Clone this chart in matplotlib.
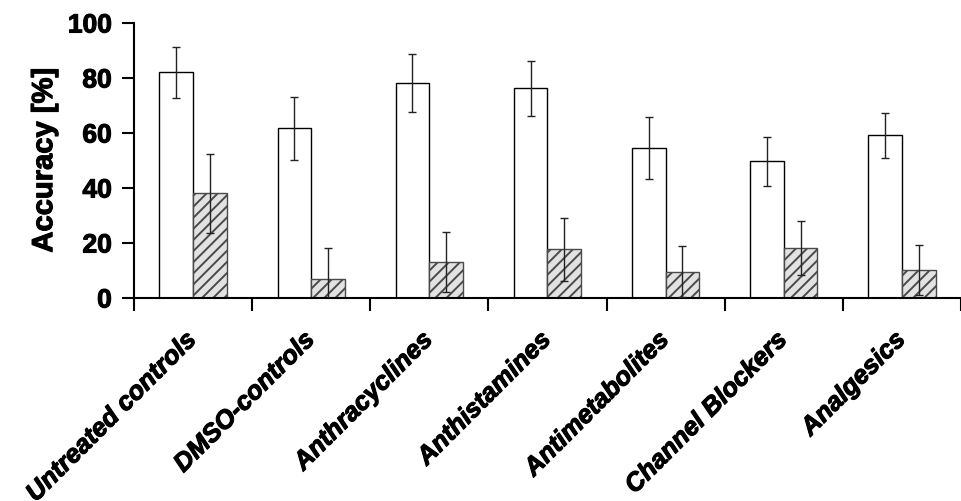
import matplotlib.pyplot as plt
import matplotlib.patheffects as pe
import numpy as np

plt.rcParams['font.family'] = 'Liberation Sans'
plt.rcParams['hatch.color'] = '#bcbcbc'
plt.rcParams['hatch.linewidth'] = 1.4

categories = ["Untreated controls", "DMSO-controls", "Anthracyclines", "Anthistamines",
              "Antimetabolites", "Channel Blockers", "Analgesics"]
white_vals = [82.1, 61.7, 78.3, 76.3, 54.4, 49.7, 59.2]
white_err = [9.3, 11.5, 10.5, 10.0, 11.3, 9.0, 8.2]
hatch_vals = [38.1, 6.9, 13.1, 17.7, 9.6, 18.2, 10.2]
hatch_err = [14.3, 11.3, 11.0, 11.4, 9.4, 9.9, 9.2]

# slightly heavier lettering
heavy = [pe.withStroke(linewidth=0.8, foreground='black')]

fig = plt.figure(figsize=(9.61, 5.02), dpi=100)
ax = fig.add_axes([0.1394, 0.4044, 0.8606, 0.5478])

x = np.arange(len(categories))
w = 0.285

ax.bar(x - w / 2, white_vals, w, color='white', edgecolor='black', linewidth=1.0, zorder=2)
ax.bar(x + w / 2, hatch_vals, w, color='#e2e2e2', edgecolor='#4a4a4a', linewidth=1.0,
       hatch='///', zorder=2)

ax.errorbar(x - w / 2, white_vals, yerr=white_err, fmt='none', ecolor='#222222',
            elinewidth=1.0, capsize=2.9, capthick=1.0, zorder=3)
ax.errorbar(x + w / 2, hatch_vals, yerr=hatch_err, fmt='none', ecolor='#222222',
            elinewidth=1.0, capsize=2.9, capthick=1.0, zorder=3)

ax.set_xlim(-0.5, 6.42)
ax.set_ylim(0, 100)
ax.set_yticks([0, 20, 40, 60, 80, 100])
ax.set_yticklabels(['0', '20', '40', '60', '80', '100'], fontsize=19, fontweight='bold')

# ticks between the groups, labels at the group centres
ax.set_xticks(np.arange(len(categories) + 1) - 0.5)
ax.set_xticklabels([])
ax.set_xticks(x, minor=True)
ax.set_xticklabels(categories, minor=True, rotation=45, ha='right', va='center',
                   rotation_mode='anchor', fontsize=18.5, fontweight='bold', style='italic')
ax.tick_params(axis='x', which='minor', length=0, pad=27)
ax.tick_params(axis='both', which='major', length=9, width=1.5, direction='out', pad=7)

ax.set_ylabel('Accuracy [%]', fontsize=21, fontweight='bold', labelpad=7)

for t in ax.get_yticklabels() + ax.get_xticklabels(minor=True) + [ax.yaxis.label]:
    t.set_path_effects(heavy)

for s in ['top', 'right']:
    ax.spines[s].set_visible(False)
for s in ['left', 'bottom']:
    ax.spines[s].set_linewidth(1.5)

fig.savefig('out.png', dpi=100)
